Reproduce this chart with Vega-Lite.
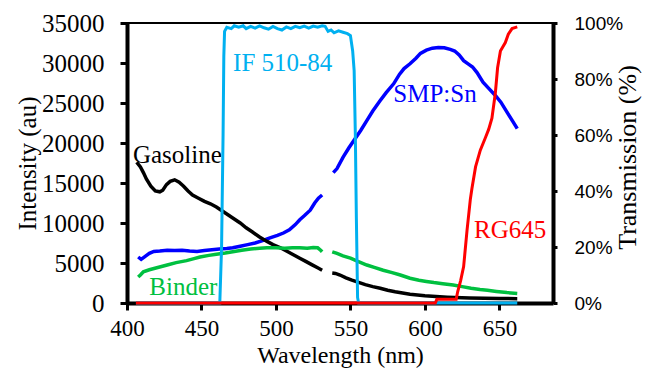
{
  "$schema": "https://vega.github.io/schema/vega-lite/v6.json",
  "width": 426,
  "height": 280,
  "autosize": {"type": "none"},
  "padding": {"left": 127, "top": 23, "right": 97, "bottom": 69},
  "background": "white",
  "config": {
    "font": "Liberation Serif",
    "view": {"stroke": "black", "strokeWidth": 2},
    "axis": {
      "grid": false,
      "domainColor": "black",
      "tickColor": "black",
      "labelColor": "black",
      "titleColor": "black",
      "labelFont": "Liberation Serif",
      "titleFont": "Liberation Serif",
      "titleFontWeight": "normal",
      "labelFontSize": 25,
      "titleFontSize": 25,
      "domainWidth": 4,
      "tickWidth": 3,
      "labelFlush": false,
      "labelOverlap": false
    }
  },
  "datasets": {
    "intensity": [
      {"s": "SMP:Sn", "seg": 1, "w": 407.5, "v": 5750},
      {"s": "SMP:Sn", "seg": 1, "w": 409.5, "v": 5450},
      {"s": "SMP:Sn", "seg": 1, "w": 412, "v": 5800},
      {"s": "SMP:Sn", "seg": 1, "w": 415, "v": 6200},
      {"s": "SMP:Sn", "seg": 1, "w": 418, "v": 6450},
      {"s": "SMP:Sn", "seg": 1, "w": 422, "v": 6500},
      {"s": "SMP:Sn", "seg": 1, "w": 427, "v": 6600},
      {"s": "SMP:Sn", "seg": 1, "w": 432, "v": 6550},
      {"s": "SMP:Sn", "seg": 1, "w": 437, "v": 6600},
      {"s": "SMP:Sn", "seg": 1, "w": 442, "v": 6500},
      {"s": "SMP:Sn", "seg": 1, "w": 447, "v": 6450},
      {"s": "SMP:Sn", "seg": 1, "w": 452, "v": 6550},
      {"s": "SMP:Sn", "seg": 1, "w": 457, "v": 6650},
      {"s": "SMP:Sn", "seg": 1, "w": 462, "v": 6750},
      {"s": "SMP:Sn", "seg": 1, "w": 467, "v": 6800},
      {"s": "SMP:Sn", "seg": 1, "w": 471, "v": 6900},
      {"s": "SMP:Sn", "seg": 1, "w": 476, "v": 7100},
      {"s": "SMP:Sn", "seg": 1, "w": 481, "v": 7300},
      {"s": "SMP:Sn", "seg": 1, "w": 486, "v": 7500},
      {"s": "SMP:Sn", "seg": 1, "w": 491, "v": 7800},
      {"s": "SMP:Sn", "seg": 1, "w": 496, "v": 8150},
      {"s": "SMP:Sn", "seg": 1, "w": 501, "v": 8450},
      {"s": "SMP:Sn", "seg": 1, "w": 505, "v": 8750},
      {"s": "SMP:Sn", "seg": 1, "w": 509, "v": 9150},
      {"s": "SMP:Sn", "seg": 1, "w": 513, "v": 9800},
      {"s": "SMP:Sn", "seg": 1, "w": 516, "v": 10400},
      {"s": "SMP:Sn", "seg": 1, "w": 519, "v": 10900},
      {"s": "SMP:Sn", "seg": 1, "w": 523, "v": 11600},
      {"s": "SMP:Sn", "seg": 1, "w": 526, "v": 12500},
      {"s": "SMP:Sn", "seg": 1, "w": 528.5, "v": 13100},
      {"s": "SMP:Sn", "seg": 1, "w": 531, "v": 13500},
      {"s": "SMP:Sn", "seg": 2, "w": 538.5, "v": 16300},
      {"s": "SMP:Sn", "seg": 2, "w": 541, "v": 16800},
      {"s": "SMP:Sn", "seg": 2, "w": 545, "v": 18200},
      {"s": "SMP:Sn", "seg": 2, "w": 549, "v": 19400},
      {"s": "SMP:Sn", "seg": 2, "w": 553, "v": 20500},
      {"s": "SMP:Sn", "seg": 2, "w": 557, "v": 21600},
      {"s": "SMP:Sn", "seg": 2, "w": 561, "v": 22800},
      {"s": "SMP:Sn", "seg": 2, "w": 565, "v": 24000},
      {"s": "SMP:Sn", "seg": 2, "w": 570, "v": 25300},
      {"s": "SMP:Sn", "seg": 2, "w": 574, "v": 26300},
      {"s": "SMP:Sn", "seg": 2, "w": 579, "v": 27400},
      {"s": "SMP:Sn", "seg": 2, "w": 583, "v": 28600},
      {"s": "SMP:Sn", "seg": 2, "w": 586, "v": 29300},
      {"s": "SMP:Sn", "seg": 2, "w": 590, "v": 29900},
      {"s": "SMP:Sn", "seg": 2, "w": 594, "v": 30600},
      {"s": "SMP:Sn", "seg": 2, "w": 597, "v": 31200},
      {"s": "SMP:Sn", "seg": 2, "w": 601, "v": 31600},
      {"s": "SMP:Sn", "seg": 2, "w": 605, "v": 31850},
      {"s": "SMP:Sn", "seg": 2, "w": 609, "v": 31950},
      {"s": "SMP:Sn", "seg": 2, "w": 613, "v": 31900},
      {"s": "SMP:Sn", "seg": 2, "w": 617, "v": 31700},
      {"s": "SMP:Sn", "seg": 2, "w": 620, "v": 31500},
      {"s": "SMP:Sn", "seg": 2, "w": 623, "v": 31000},
      {"s": "SMP:Sn", "seg": 2, "w": 626, "v": 30300},
      {"s": "SMP:Sn", "seg": 2, "w": 629, "v": 29900},
      {"s": "SMP:Sn", "seg": 2, "w": 632, "v": 29500},
      {"s": "SMP:Sn", "seg": 2, "w": 635, "v": 28800},
      {"s": "SMP:Sn", "seg": 2, "w": 639, "v": 27600},
      {"s": "SMP:Sn", "seg": 2, "w": 643, "v": 26800},
      {"s": "SMP:Sn", "seg": 2, "w": 647, "v": 26000},
      {"s": "SMP:Sn", "seg": 2, "w": 651, "v": 25100},
      {"s": "SMP:Sn", "seg": 2, "w": 655, "v": 23900},
      {"s": "SMP:Sn", "seg": 2, "w": 659, "v": 22700},
      {"s": "SMP:Sn", "seg": 2, "w": 662, "v": 21800},
      {"s": "Gasoline", "seg": 1, "w": 406.5, "v": 17600},
      {"s": "Gasoline", "seg": 1, "w": 409, "v": 17000},
      {"s": "Gasoline", "seg": 1, "w": 411, "v": 16300},
      {"s": "Gasoline", "seg": 1, "w": 413, "v": 15500},
      {"s": "Gasoline", "seg": 1, "w": 416, "v": 14600},
      {"s": "Gasoline", "seg": 1, "w": 419, "v": 14000},
      {"s": "Gasoline", "seg": 1, "w": 422, "v": 13900},
      {"s": "Gasoline", "seg": 1, "w": 424, "v": 14100},
      {"s": "Gasoline", "seg": 1, "w": 426.5, "v": 14800},
      {"s": "Gasoline", "seg": 1, "w": 429, "v": 15200},
      {"s": "Gasoline", "seg": 1, "w": 432, "v": 15400},
      {"s": "Gasoline", "seg": 1, "w": 435, "v": 15100},
      {"s": "Gasoline", "seg": 1, "w": 438, "v": 14600},
      {"s": "Gasoline", "seg": 1, "w": 441, "v": 14000},
      {"s": "Gasoline", "seg": 1, "w": 444, "v": 13500},
      {"s": "Gasoline", "seg": 1, "w": 448, "v": 13100},
      {"s": "Gasoline", "seg": 1, "w": 452, "v": 12700},
      {"s": "Gasoline", "seg": 1, "w": 456, "v": 12400},
      {"s": "Gasoline", "seg": 1, "w": 460, "v": 12000},
      {"s": "Gasoline", "seg": 1, "w": 464, "v": 11500},
      {"s": "Gasoline", "seg": 1, "w": 468, "v": 11000},
      {"s": "Gasoline", "seg": 1, "w": 472, "v": 10500},
      {"s": "Gasoline", "seg": 1, "w": 476, "v": 10000},
      {"s": "Gasoline", "seg": 1, "w": 480, "v": 9400},
      {"s": "Gasoline", "seg": 1, "w": 484, "v": 8900},
      {"s": "Gasoline", "seg": 1, "w": 489, "v": 8250},
      {"s": "Gasoline", "seg": 1, "w": 494, "v": 7700},
      {"s": "Gasoline", "seg": 1, "w": 498, "v": 7300},
      {"s": "Gasoline", "seg": 1, "w": 503, "v": 6900},
      {"s": "Gasoline", "seg": 1, "w": 508, "v": 6400},
      {"s": "Gasoline", "seg": 1, "w": 512, "v": 6000},
      {"s": "Gasoline", "seg": 1, "w": 516, "v": 5600},
      {"s": "Gasoline", "seg": 1, "w": 520, "v": 5200},
      {"s": "Gasoline", "seg": 1, "w": 524, "v": 4800},
      {"s": "Gasoline", "seg": 1, "w": 528, "v": 4400},
      {"s": "Gasoline", "seg": 1, "w": 531, "v": 4100},
      {"s": "Gasoline", "seg": 2, "w": 537.8, "v": 3750},
      {"s": "Gasoline", "seg": 2, "w": 540, "v": 3700},
      {"s": "Gasoline", "seg": 2, "w": 543, "v": 3500},
      {"s": "Gasoline", "seg": 2, "w": 547, "v": 3150},
      {"s": "Gasoline", "seg": 2, "w": 551, "v": 2850},
      {"s": "Gasoline", "seg": 2, "w": 555, "v": 2600},
      {"s": "Gasoline", "seg": 2, "w": 560, "v": 2300},
      {"s": "Gasoline", "seg": 2, "w": 565, "v": 2050},
      {"s": "Gasoline", "seg": 2, "w": 570, "v": 1850},
      {"s": "Gasoline", "seg": 2, "w": 575, "v": 1600},
      {"s": "Gasoline", "seg": 2, "w": 580, "v": 1400},
      {"s": "Gasoline", "seg": 2, "w": 585, "v": 1250},
      {"s": "Gasoline", "seg": 2, "w": 590, "v": 1100},
      {"s": "Gasoline", "seg": 2, "w": 595, "v": 1000},
      {"s": "Gasoline", "seg": 2, "w": 600, "v": 900},
      {"s": "Gasoline", "seg": 2, "w": 605, "v": 850},
      {"s": "Gasoline", "seg": 2, "w": 610, "v": 780},
      {"s": "Gasoline", "seg": 2, "w": 615, "v": 720},
      {"s": "Gasoline", "seg": 2, "w": 620, "v": 680},
      {"s": "Gasoline", "seg": 2, "w": 630, "v": 620},
      {"s": "Gasoline", "seg": 2, "w": 640, "v": 580},
      {"s": "Gasoline", "seg": 2, "w": 650, "v": 560},
      {"s": "Gasoline", "seg": 2, "w": 662, "v": 540},
      {"s": "Binder", "seg": 1, "w": 407.5, "v": 3250},
      {"s": "Binder", "seg": 1, "w": 409, "v": 3500},
      {"s": "Binder", "seg": 1, "w": 411, "v": 3900},
      {"s": "Binder", "seg": 1, "w": 415, "v": 4150},
      {"s": "Binder", "seg": 1, "w": 420, "v": 4400},
      {"s": "Binder", "seg": 1, "w": 427, "v": 4750},
      {"s": "Binder", "seg": 1, "w": 433, "v": 5050},
      {"s": "Binder", "seg": 1, "w": 440, "v": 5300},
      {"s": "Binder", "seg": 1, "w": 445, "v": 5550},
      {"s": "Binder", "seg": 1, "w": 449, "v": 5750},
      {"s": "Binder", "seg": 1, "w": 455, "v": 5950},
      {"s": "Binder", "seg": 1, "w": 460, "v": 6100},
      {"s": "Binder", "seg": 1, "w": 466, "v": 6250},
      {"s": "Binder", "seg": 1, "w": 471, "v": 6400},
      {"s": "Binder", "seg": 1, "w": 477, "v": 6600},
      {"s": "Binder", "seg": 1, "w": 483, "v": 6750},
      {"s": "Binder", "seg": 1, "w": 489, "v": 6850},
      {"s": "Binder", "seg": 1, "w": 494, "v": 6900},
      {"s": "Binder", "seg": 1, "w": 500, "v": 6900},
      {"s": "Binder", "seg": 1, "w": 506, "v": 6850},
      {"s": "Binder", "seg": 1, "w": 511, "v": 6900},
      {"s": "Binder", "seg": 1, "w": 516, "v": 6900},
      {"s": "Binder", "seg": 1, "w": 521, "v": 6850},
      {"s": "Binder", "seg": 1, "w": 525, "v": 6950},
      {"s": "Binder", "seg": 1, "w": 528, "v": 6900},
      {"s": "Binder", "seg": 1, "w": 530, "v": 6600},
      {"s": "Binder", "seg": 1, "w": 531, "v": 6400},
      {"s": "Binder", "seg": 2, "w": 537.8, "v": 6400},
      {"s": "Binder", "seg": 2, "w": 541, "v": 6200},
      {"s": "Binder", "seg": 2, "w": 545, "v": 5900},
      {"s": "Binder", "seg": 2, "w": 550, "v": 5600},
      {"s": "Binder", "seg": 2, "w": 555, "v": 5200},
      {"s": "Binder", "seg": 2, "w": 561, "v": 4750},
      {"s": "Binder", "seg": 2, "w": 566, "v": 4450},
      {"s": "Binder", "seg": 2, "w": 572, "v": 4100},
      {"s": "Binder", "seg": 2, "w": 578, "v": 3800},
      {"s": "Binder", "seg": 2, "w": 583.5, "v": 3500},
      {"s": "Binder", "seg": 2, "w": 590, "v": 3100},
      {"s": "Binder", "seg": 2, "w": 596, "v": 2850},
      {"s": "Binder", "seg": 2, "w": 601, "v": 2700},
      {"s": "Binder", "seg": 2, "w": 606, "v": 2550},
      {"s": "Binder", "seg": 2, "w": 612, "v": 2400},
      {"s": "Binder", "seg": 2, "w": 619, "v": 2250},
      {"s": "Binder", "seg": 2, "w": 625, "v": 2050},
      {"s": "Binder", "seg": 2, "w": 631, "v": 1850},
      {"s": "Binder", "seg": 2, "w": 637, "v": 1700},
      {"s": "Binder", "seg": 2, "w": 642, "v": 1600},
      {"s": "Binder", "seg": 2, "w": 648, "v": 1450},
      {"s": "Binder", "seg": 2, "w": 655, "v": 1300},
      {"s": "Binder", "seg": 2, "w": 662, "v": 1200}
    ],
    "trans": [
      {"s": "IF 510-84", "w": 406, "t": 0},
      {"s": "IF 510-84", "w": 462.3, "t": 0},
      {"s": "IF 510-84", "w": 463.5, "t": 20},
      {"s": "IF 510-84", "w": 464.5, "t": 60},
      {"s": "IF 510-84", "w": 465, "t": 88},
      {"s": "IF 510-84", "w": 465.5, "t": 97},
      {"s": "IF 510-84", "w": 467, "t": 98.5},
      {"s": "IF 510-84", "w": 470, "t": 98},
      {"s": "IF 510-84", "w": 472, "t": 99},
      {"s": "IF 510-84", "w": 475, "t": 98.5},
      {"s": "IF 510-84", "w": 478, "t": 99},
      {"s": "IF 510-84", "w": 480, "t": 98},
      {"s": "IF 510-84", "w": 483, "t": 98.8},
      {"s": "IF 510-84", "w": 486, "t": 98.2},
      {"s": "IF 510-84", "w": 489, "t": 99},
      {"s": "IF 510-84", "w": 492, "t": 98.3},
      {"s": "IF 510-84", "w": 495, "t": 97.8},
      {"s": "IF 510-84", "w": 498, "t": 98.8},
      {"s": "IF 510-84", "w": 501, "t": 98},
      {"s": "IF 510-84", "w": 504, "t": 97.5},
      {"s": "IF 510-84", "w": 507, "t": 98.6},
      {"s": "IF 510-84", "w": 510, "t": 98},
      {"s": "IF 510-84", "w": 513, "t": 98.8},
      {"s": "IF 510-84", "w": 516, "t": 98.3},
      {"s": "IF 510-84", "w": 519, "t": 98.9},
      {"s": "IF 510-84", "w": 522, "t": 98.2},
      {"s": "IF 510-84", "w": 525, "t": 98.9},
      {"s": "IF 510-84", "w": 528, "t": 98.5},
      {"s": "IF 510-84", "w": 531, "t": 99},
      {"s": "IF 510-84", "w": 533, "t": 98.8},
      {"s": "IF 510-84", "w": 535, "t": 97},
      {"s": "IF 510-84", "w": 537, "t": 97.5},
      {"s": "IF 510-84", "w": 539, "t": 96.5},
      {"s": "IF 510-84", "w": 542, "t": 97.2},
      {"s": "IF 510-84", "w": 545, "t": 96.7},
      {"s": "IF 510-84", "w": 548, "t": 96.2},
      {"s": "IF 510-84", "w": 550, "t": 95.5},
      {"s": "IF 510-84", "w": 551.5, "t": 90},
      {"s": "IF 510-84", "w": 552.5, "t": 83},
      {"s": "IF 510-84", "w": 553.3, "t": 60},
      {"s": "IF 510-84", "w": 554, "t": 30},
      {"s": "IF 510-84", "w": 554.8, "t": 2},
      {"s": "IF 510-84", "w": 555.5, "t": 0},
      {"s": "IF 510-84", "w": 662, "t": 0},
      {"s": "RG645", "w": 406, "t": 0},
      {"s": "RG645", "w": 607, "t": 0},
      {"s": "RG645", "w": 608, "t": 1.3},
      {"s": "RG645", "w": 621, "t": 1.3},
      {"s": "RG645", "w": 622, "t": 4},
      {"s": "RG645", "w": 624, "t": 8},
      {"s": "RG645", "w": 626, "t": 13},
      {"s": "RG645", "w": 628.3, "t": 26},
      {"s": "RG645", "w": 630.5, "t": 37},
      {"s": "RG645", "w": 631.6, "t": 41},
      {"s": "RG645", "w": 634, "t": 48.6},
      {"s": "RG645", "w": 637.2, "t": 54.6},
      {"s": "RG645", "w": 640.6, "t": 59},
      {"s": "RG645", "w": 642.8, "t": 62},
      {"s": "RG645", "w": 645, "t": 66},
      {"s": "RG645", "w": 647.3, "t": 75},
      {"s": "RG645", "w": 648.8, "t": 84},
      {"s": "RG645", "w": 650.7, "t": 90},
      {"s": "RG645", "w": 654, "t": 93},
      {"s": "RG645", "w": 656, "t": 96},
      {"s": "RG645", "w": 658.5, "t": 98},
      {"s": "RG645", "w": 662, "t": 98.6}
    ],
    "labels": [
      {"s": "Gasoline", "txt": "Gasoline", "w": 404, "v": 17500},
      {"s": "IF 510-84", "txt": "IF 510-84", "w": 471.2, "v": 29000},
      {"s": "SMP:Sn", "txt": "SMP:Sn", "w": 578.8, "v": 25150},
      {"s": "RG645", "txt": "RG645", "w": 633, "v": 8150},
      {"s": "Binder", "txt": "Binder", "w": 415, "v": 1000}
    ]
  },
  "encoding": {
    "x": {
      "field": "w", "type": "quantitative",
      "scale": {"domain": [400, 686], "nice": false, "zero": false},
      "axis": {
        "values": [400, 450, 500, 550, 600, 650],
        "tickSize": 7,
        "labelFontSize": 23,
        "labelPadding": 7,
        "title": "Wavelength (nm)",
        "titleFontSize": 24,
        "titleY": 59,
        "titleBaseline": "alphabetic"
      }
    },
    "color": {
      "field": "s", "type": "nominal", "legend": null,
      "scale": {
        "domain": ["Gasoline", "SMP:Sn", "Binder", "IF 510-84", "RG645"],
        "range": ["#000000", "#0000FF", "#00C040", "#00B0F0", "#FF0000"]
      }
    }
  },
  "layer": [
    {
      "encoding": {
        "y": {
          "field": "v", "type": "quantitative",
          "scale": {"domain": [0, 35000], "nice": false},
          "axis": {
            "values": [0, 5000, 10000, 15000, 20000, 25000, 30000, 35000],
            "format": "d",
            "tickSize": 7,
            "labelPadding": 16,
            "title": "Intensity (au)",
            "titleAngle": -90,
            "titleX": -100,
            "titleY": 140,
            "titleAlign": "center",
            "titleBaseline": "middle"
          }
        }
      },
      "layer": [
        {
          "data": {"name": "intensity"},
          "mark": {"type": "line", "strokeWidth": 3.5},
          "encoding": {
            "detail": {"field": "seg", "type": "nominal"}
          }
        },
        {
          "data": {"name": "labels"},
          "mark": {"type": "text", "align": "left", "baseline": "alphabetic", "fontSize": 25, "font": "Liberation Serif"},
          "encoding": {
            "text": {"field": "txt"}
          }
        }
      ]
    },
    {
      "data": {"name": "trans"},
      "mark": {"type": "line", "strokeWidth": 3},
      "encoding": {
        "y": {
          "field": "t", "type": "quantitative",
          "scale": {"domain": [0, 100], "nice": false},
          "axis": {
            "orient": "right",
            "values": [0, 20, 40, 60, 80, 100],
            "labelExpr": "datum.value + '%'",
            "labelFont": "Liberation Sans",
            "labelFontSize": 19,
            "tickSize": 4,
            "labelPadding": 17,
            "title": "Transmission (%)",
            "titleFontSize": 26,
            "titleAngle": -90,
            "titleX": 74,
            "titleY": 134,
            "titleAlign": "center",
            "titleBaseline": "middle"
          }
        }
      }
    }
  ],
  "resolve": {"scale": {"y": "independent"}}
}
